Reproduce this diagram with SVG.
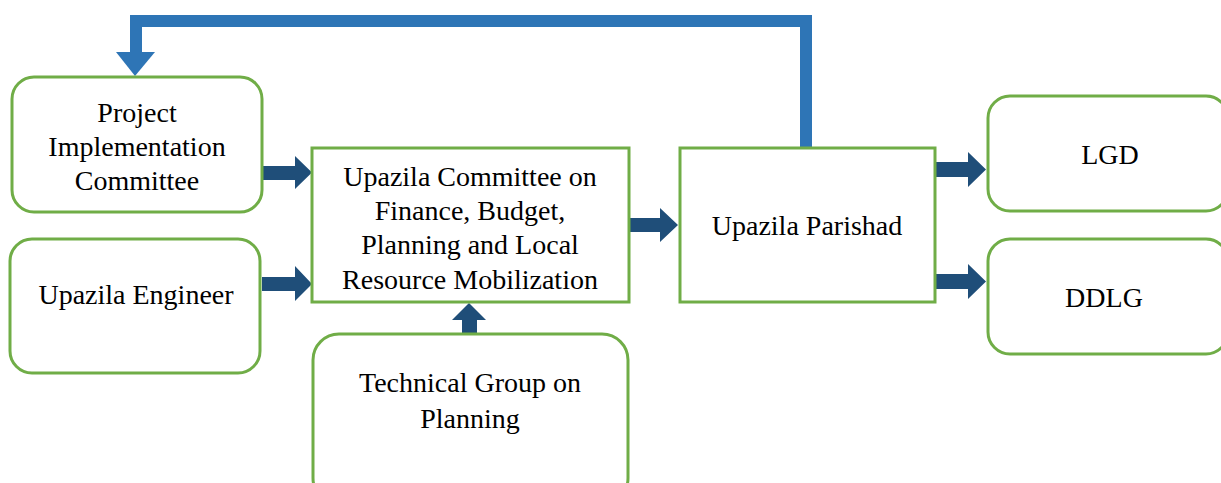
<svg xmlns="http://www.w3.org/2000/svg" width="1221" height="483" viewBox="0 0 1221 483">
<style>
.box{fill:#fff;stroke:#70AD47;stroke-width:3}
.t{font-family:"Liberation Serif","Times New Roman",serif;font-size:28px;fill:#000;text-anchor:middle}
.blk{fill:#1F4E79}
</style>
<rect width="1221" height="483" fill="#fff"/>
<g id="connectors">
<path d="M806,148 V21 H136 V53" fill="none" stroke="#2E75B6" stroke-width="12" stroke-linejoin="miter"/>
<polygon points="116,52 155,52 135,76" fill="#2E75B6"/>
<polygon class="blk" points="262,166 295,166 295,156 312,172.5 295,189 295,180 262,180"/>
<polygon class="blk" points="262,277 295,277 295,266 312,284 295,301 295,291 262,291"/>
<polygon class="blk" points="629,218 660,218 660,208 678,225 660,242 660,232 629,232"/>
<polygon class="blk" points="462,335 462,320 452,320 469,303 486,320 477,320 477,335"/>
<polygon class="blk" points="935,162 968,162 968,152 986,169.5 968,187 968,177 935,177"/>
<polygon class="blk" points="935,274 968,274 968,264 986,281.5 968,299 968,289 935,289"/>
</g>
<g id="pic">
<rect class="box" x="12" y="77" width="250" height="135" rx="22"/>
<text class="t" x="137" y="122">Project</text>
<text class="t" x="137" y="156">Implementation</text>
<text class="t" x="137" y="190">Committee</text>
</g>
<g id="engineer">
<rect class="box" x="10" y="239" width="250" height="134" rx="22"/>
<text class="t" x="136" y="304">Upazila Engineer</text>
</g>
<g id="committee">
<rect class="box" x="312" y="148" width="317" height="154"/>
<text class="t" x="470" y="186">Upazila Committee on</text>
<text class="t" x="470" y="220">Finance, Budget,</text>
<text class="t" x="470" y="254">Planning and Local</text>
<text class="t" x="470" y="289">Resource Mobilization</text>
</g>
<g id="technical">
<rect class="box" x="313" y="334" width="315" height="170" rx="26"/>
<text class="t" x="470" y="392">Technical Group on</text>
<text class="t" x="470" y="428">Planning</text>
</g>
<g id="parishad">
<rect class="box" x="680" y="148" width="255" height="154"/>
<text class="t" x="807" y="235">Upazila Parishad</text>
</g>
<g id="lgd">
<rect class="box" x="988" y="96" width="240" height="115" rx="22"/>
<text class="t" x="1110" y="164">LGD</text>
</g>
<g id="ddlg">
<rect class="box" x="988" y="239" width="240" height="115" rx="22"/>
<text class="t" x="1104" y="307">DDLG</text>
</g>
</svg>
